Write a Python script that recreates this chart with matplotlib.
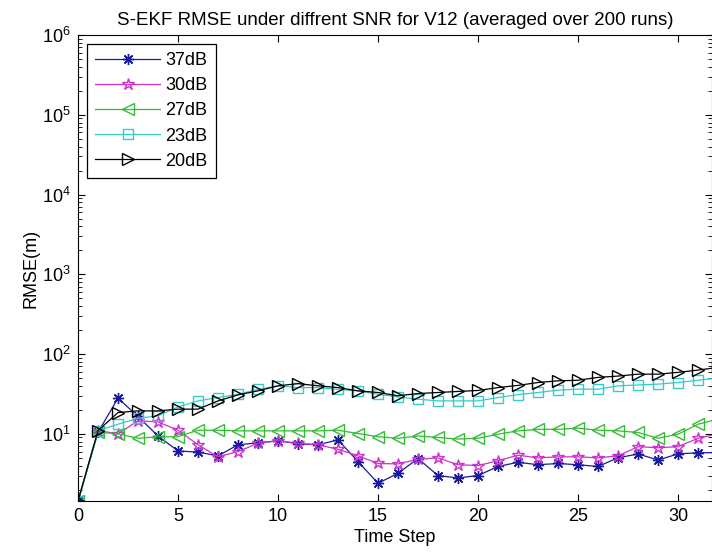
import matplotlib.pyplot as plt
import numpy as np

plt.rcParams['font.family'] = ['Liberation Sans', 'DejaVu Sans']

# time steps 0..32
t = np.arange(33)

# RMSE values per SNR
rmse_37 = [1.44, 10.5, 28, 16.5, 9.4, 6.1, 5.9, 5.3, 7.3, 7.7, 8.2, 7.5, 7.3, 8.4,
           4.5, 2.4, 3.2, 4.9, 3.0, 2.8, 3.0, 3.9, 4.4, 4.1, 4.25, 4.1, 3.9,
           5.0, 5.6, 4.7, 5.6, 5.8, 5.8]
rmse_30 = [1.44, 11, 10, 14.6, 14.1, 11.1, 7.3, 5.15, 6.0, 7.6, 8.2, 7.6, 7.3, 6.4,
           5.3, 4.25, 4.2, 4.8, 5.0, 4.1, 4.0, 4.6, 5.4, 5.0, 5.15, 5.15, 5.0,
           5.3, 6.9, 6.7, 6.9, 8.8, 10]
rmse_27 = [1.44, 10.5, 10, 8.8, 9.2, 9.2, 11.1, 11.1, 10.9, 10.9, 10.9, 10.9, 10.9, 11.1,
           10.1, 9.2, 8.8, 9.4, 9.0, 8.6, 8.8, 9.9, 10.9, 11.4, 11.4, 11.8, 11.1,
           10.9, 10.4, 8.8, 9.9, 13.2, 15.3]
rmse_23 = [1.44, 11, 13.2, 15.7, 16.8, 21.8, 25.9, 28.5, 31.4, 36, 40, 38, 38, 36,
           34.6, 31.4, 29, 27.2, 25.9, 25.9, 25.9, 28.5, 31, 33, 35.3, 36.3, 36.3,
           40, 41, 42, 44, 47, 50]
rmse_20 = [1.44, 11, 18.5, 19.4, 19.4, 20.4, 20.4, 25.9, 30.8, 34.6, 40, 42.6, 40, 38,
           34.6, 33, 30, 32, 33, 34, 35, 38, 40.5, 44, 46.2, 47, 51,
           53, 56, 56, 59, 63, 68]

labels = ['37dB', '30dB', '27dB', '23dB', '20dB']
colors = ['#1a1a9c', '#cc33cc', '#33bb33', '#33cccc', 'black']

fig = plt.figure(figsize=(7.12, 5.54), dpi=100)
ax = fig.add_axes([0.1096, 0.0957, 0.8904, 0.8411])

asterisk = (8, 2, 0)
ax.plot(t, rmse_37, color=colors[0], marker=asterisk, ms=8, lw=0.9, label=labels[0])
ax.plot(t, rmse_30, color=colors[1], marker='*', ms=9, mfc='none', lw=0.9, label=labels[1])
ax.plot(t, rmse_27, color=colors[2], marker='<', ms=8, mfc='none', lw=0.9, label=labels[2])
ax.plot(t, rmse_23, color=colors[3], marker='s', ms=7, mfc='none', lw=0.9, label=labels[3])
ax.plot(t, rmse_20, color=colors[4], marker='>', ms=8, mfc='none', lw=0.9, label=labels[4])

ax.set_yscale('log')
ax.set_ylim(1.44, 1e6)
ax.set_xlim(0, 31.7)
ax.set_xticks([0, 5, 10, 15, 20, 25, 30])
ax.set_yticks([1e1, 1e2, 1e3, 1e4, 1e5, 1e6])
ax.tick_params(which='both', direction='in', top=True, right=True, labelsize=13, pad=5)
ax.tick_params(which='major', length=5)
ax.tick_params(which='minor', length=3)

ax.set_xlabel('Time Step', fontsize=13, labelpad=3)
ax.set_ylabel('RMSE(m)', fontsize=13, labelpad=2)
ax.set_title('S-EKF RMSE under diffrent SNR for V12 (averaged over 200 runs)', fontsize=13.5, pad=7)

leg = ax.legend(loc='upper left', fontsize=13, fancybox=False, edgecolor='black',
                framealpha=1, handlelength=3.6, handletextpad=0.3, borderaxespad=0.5,
                labelspacing=0.45, borderpad=0.45)
leg.get_frame().set_linewidth(0.9)

fig.savefig('out.png', dpi=100)
